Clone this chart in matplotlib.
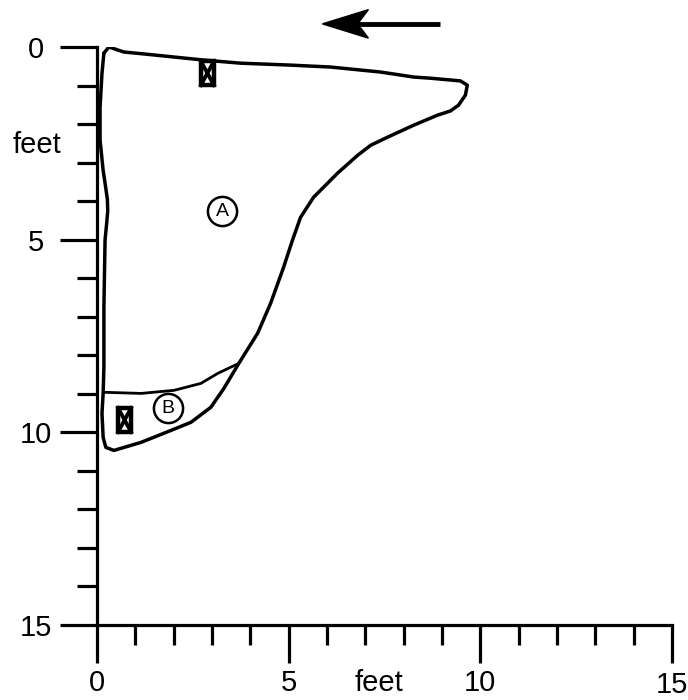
import matplotlib
matplotlib.use('Agg')
import matplotlib.pyplot as plt
from matplotlib.patches import Polygon, Rectangle
from matplotlib.transforms import ScaledTranslation

plt.rcParams['font.family'] = ['Liberation Sans', 'DejaVu Sans']

# outline of the section, feet across / feet down
edge_x = [0.18, 0.31, 0.70, 1.22, 2.01, 2.79, 3.75, 5.05, 6.09, 7.40, 8.26, 8.70,
          9.48, 9.66, 9.61, 9.43, 9.22, 8.88, 8.26, 7.58, 7.14, 6.80, 6.28, 5.65,
          5.31, 5.10, 4.87, 4.53, 4.19, 3.70, 3.31, 2.97, 2.45, 1.93, 1.15, 0.44,
          0.23, 0.16, 0.13, 0.16, 0.18, 0.18, 0.21, 0.25, 0.28, 0.27, 0.22, 0.16,
          0.08, 0.08, 0.13, 0.18]
edge_y = [0.16, 0.00, 0.13, 0.18, 0.26, 0.34, 0.42, 0.47, 0.52, 0.65, 0.78, 0.81,
          0.88, 0.99, 1.25, 1.51, 1.66, 1.77, 2.03, 2.34, 2.55, 2.81, 3.27, 3.90,
          4.42, 5.01, 5.71, 6.65, 7.43, 8.21, 8.86, 9.35, 9.74, 9.95, 10.26, 10.47,
          10.39, 10.13, 9.51, 8.99, 8.31, 6.75, 5.01, 4.60, 4.25, 3.95, 3.60, 3.20,
          2.42, 1.56, 0.68, 0.16]

# line cutting zone B off the bottom
split_x = [0.16, 1.15, 2.01, 2.71, 3.15, 3.70]
split_y = [8.96, 8.99, 8.91, 8.73, 8.47, 8.21]

# boxed-X points
box_x = [2.88, 0.72]
box_y = [0.68, 9.68]

# zone labels
zone_names = ['A', 'B']
zone_x = [3.26, 1.86]
zone_y = [4.26, 9.38]

major = [0, 5, 10, 15]

fig = plt.figure(figsize=(6.88, 7.0), dpi=100)
ax = fig.add_axes([97 / 688, 75 / 700, 575 / 688, 578 / 700])
ax.set_xlim(0, 15)
ax.set_ylim(15, 0)

for s in ['top', 'right']:
    ax.spines[s].set_visible(False)
for s in ['left', 'bottom']:
    ax.spines[s].set_linewidth(2.3)

ax.set_xticks(major)
ax.set_yticks(major)
ax.set_xticks(range(16), minor=True)
ax.set_yticks(range(16), minor=True)
ax.tick_params(which='major', length=27, width=2.3, labelsize=21)
ax.tick_params(which='minor', length=14.5, width=2.3)
ax.tick_params(axis='x', which='major', pad=5)
ax.tick_params(axis='y', which='major', pad=17)
for lab in ax.get_yticklabels():
    lab.set_horizontalalignment('center')
# the last x label sits a little lower in the original
last = ax.xaxis.get_major_ticks()[-1].label1
last.set_transform(last.get_transform() + ScaledTranslation(0, -2 / 100, fig.dpi_scale_trans))

ax.plot(edge_x, edge_y, color='black', lw=2.5,
        solid_joinstyle='round', solid_capstyle='round')
ax.plot(split_x, split_y, color='black', lw=2.0,
        solid_joinstyle='round', solid_capstyle='round')

# zone markers
ax.plot(zone_x, zone_y, 'o', ms=21, mfc='white', mec='black', mew=1.8)
for name, x, y in zip(zone_names, zone_x, zone_y):
    ax.text(x, y, name, ha='center', va='center', fontsize=14)

# boxed X symbols
w, h = 0.34, 0.62
for x, y in zip(box_x, box_y):
    ax.add_patch(Rectangle((x - w / 2, y - h / 2), w, h, facecolor='white',
                           edgecolor='black', lw=3.2, zorder=3))
    ax.plot([x - w / 2, x + w / 2], [y - h / 2, y + h / 2], color='black', lw=2.8, zorder=4)
    ax.plot([x - w / 2, x + w / 2], [y + h / 2, y - h / 2], color='black', lw=2.8, zorder=4)

# direction arrow above the section
tip, tail, ay = 5.88, 8.96, -0.6
ax.plot([tip + 0.9, tail], [ay, ay], color='black', lw=3.5, clip_on=False,
        solid_capstyle='butt')
head = Polygon([[tip, ay], [tip + 1.2, ay - 0.37], [tip + 0.92, ay],
                [tip + 1.2, ay + 0.37]], closed=True, color='black', clip_on=False)
ax.add_patch(head)

ax.text(-1.57, 2.55, 'feet', ha='center', va='center', fontsize=21, clip_on=False)
ax.text(7.35, 16.5, 'feet', ha='center', va='center', fontsize=21, clip_on=False)

fig.savefig('out.png', dpi=100)
